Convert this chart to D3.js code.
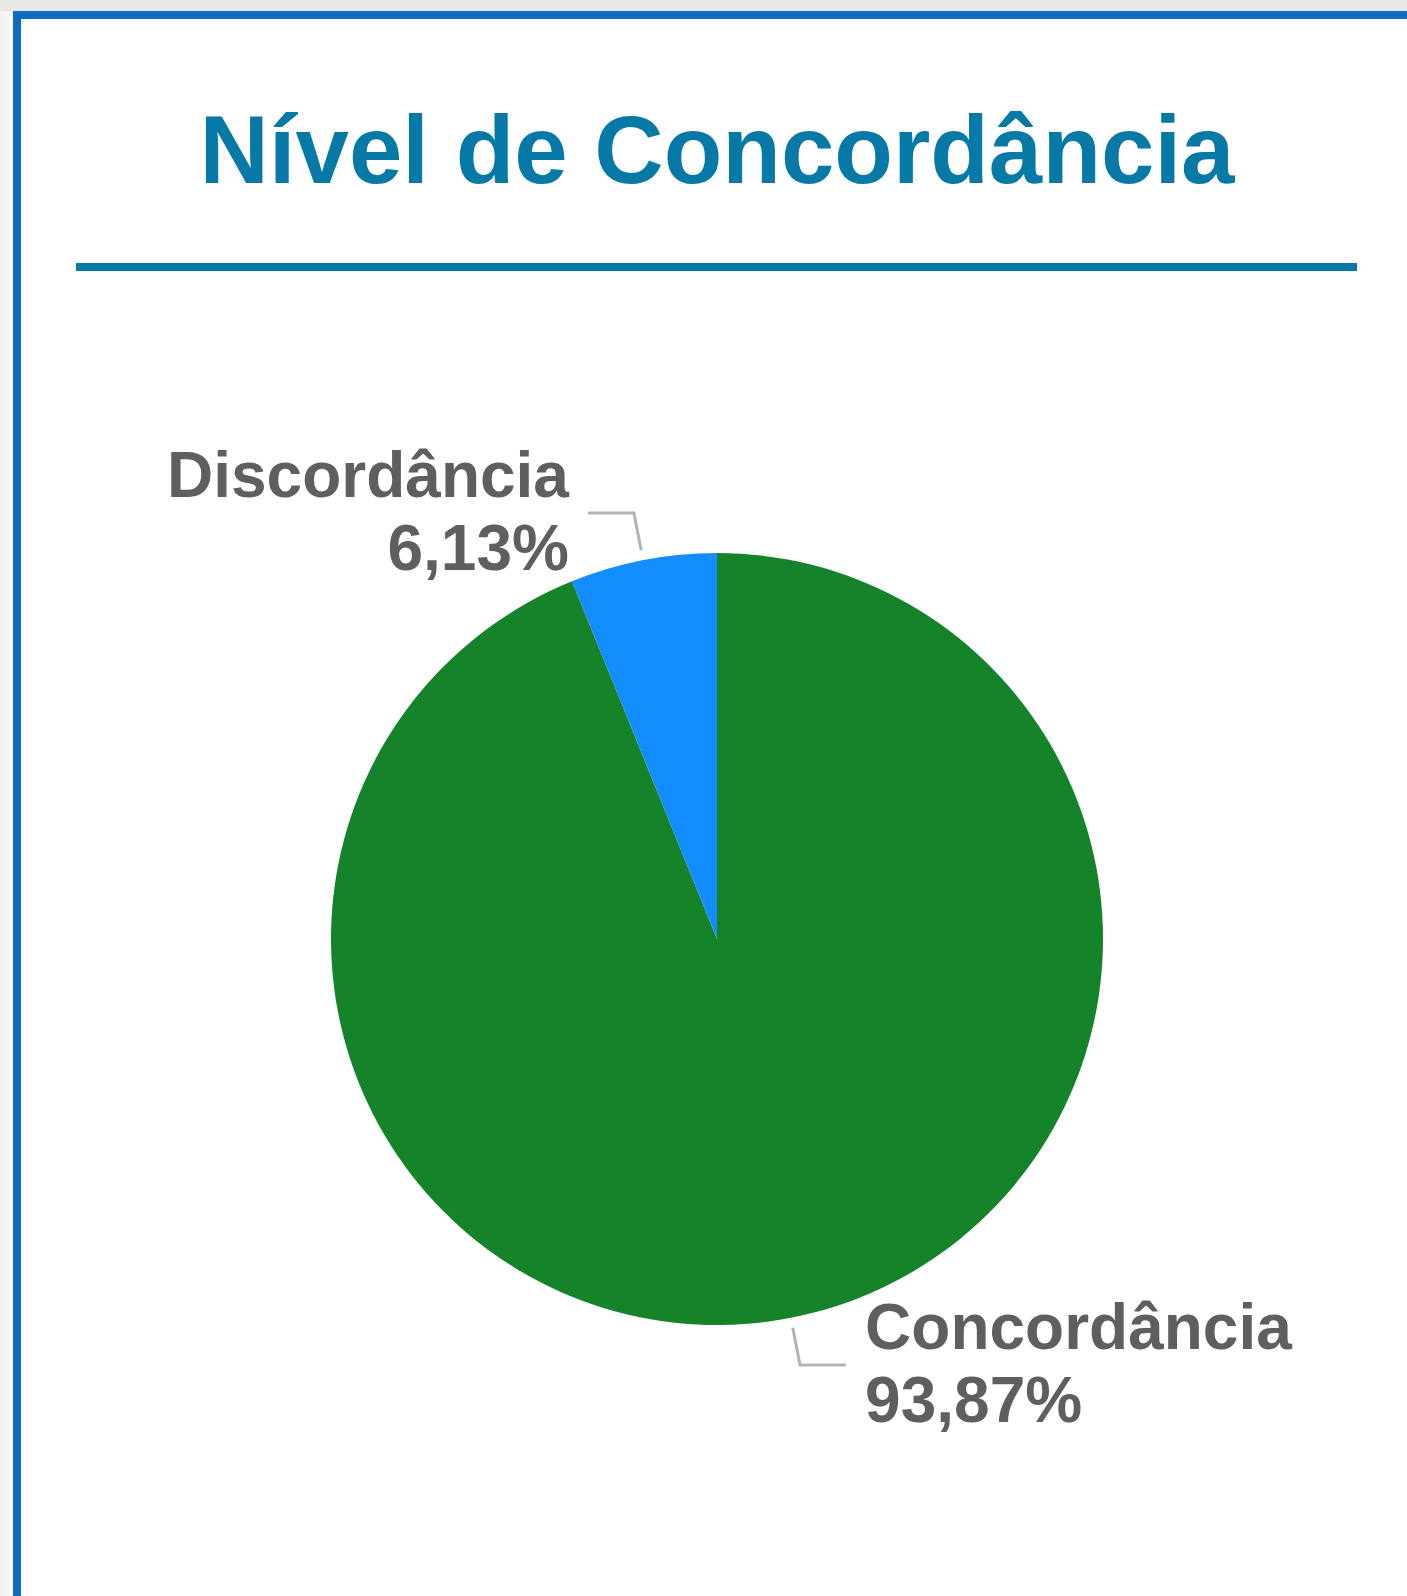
<!DOCTYPE html>
<html>
<head>
<meta charset="utf-8">
<script src="https://cdn.jsdelivr.net/npm/d3@7"></script>
<style>
  html, body { margin: 0; padding: 0; }
  body {
    width: 1407px; height: 1596px; overflow: hidden;
    background: linear-gradient(to right, #f0f0f0, #fafafa 13px);
    font-family: "Liberation Sans", Arial, sans-serif;
  }
  .top-strip { position: absolute; left: 0; top: 0; width: 1407px; height: 11px; background: #e8e8e8; }
  svg { position: absolute; left: 0; top: 0; }
</style>
</head>
<body>
<div class="top-strip"></div>
<svg width="1407" height="1596"></svg>
<script>
const title = "Nível de Concordância";
const categories = ["Concordância", "Discordância"];
const values = [93.87, 6.13];
const colors = ["#14832a", "#138dff"];

const svg = d3.select("svg"),
  width = +svg.attr("width"),
  height = +svg.attr("height");

// card with blue border on top and left
svg.append("rect")
  .attr("x", 13).attr("y", 11)
  .attr("width", width).attr("height", height)
  .attr("fill", "#fff");
svg.append("rect")
  .attr("x", 13).attr("y", 11)
  .attr("width", width).attr("height", 8)
  .attr("fill", "#0f6bc1");
svg.append("rect")
  .attr("x", 13).attr("y", 11)
  .attr("width", 8).attr("height", height)
  .attr("fill", "#0f6bc1");

// title + rule
svg.append("text")
  .attr("x", 717).attr("y", 183)
  .attr("text-anchor", "middle")
  .attr("font-size", 96)
  .attr("font-weight", "bold")
  .attr("fill", "#0779a7")
  .text(title);

svg.append("line")
  .attr("x1", 76).attr("x2", 1357)
  .attr("y1", 267).attr("y2", 267)
  .attr("stroke", "#0779a7")
  .attr("stroke-width", 8);

// pie
const cx = 717, cy = 939, r = 386;
const g = svg.append("g").attr("transform", `translate(${cx},${cy})`);

const pie = d3.pie().sort(null).value((d) => d.value);
const data = pie(categories.map((c, i) => ({ name: c, value: values[i], color: colors[i] })));
const arc = d3.arc().innerRadius(0).outerRadius(r);

g.selectAll("path")
  .data(data)
  .enter()
  .append("path")
  .attr("d", arc)
  .attr("fill", (d) => d.data.color);

// labels with leader lines
const fmt = (v) => v.toFixed(2).replace(".", ",") + "%";
const inner = d3.arc().innerRadius(r + 10).outerRadius(r + 10);
const outer = d3.arc().innerRadius(r + 48).outerRadius(r + 48);

data.forEach((d) => {
  const p1 = inner.centroid(d);
  const p2 = outer.centroid(d);
  const mid = (d.startAngle + d.endAngle) / 2;
  const right = mid < Math.PI;
  const p3 = [p2[0] + (right ? 46 : -46), p2[1]];

  g.append("polyline")
    .attr("points", [p1, p2, p3].map((p) => p.join(",")).join(" "))
    .attr("fill", "none")
    .attr("stroke", "#b3b3b3")
    .attr("stroke-width", 3);

  const t = g.append("text")
    .attr("text-anchor", right ? "start" : "end")
    .attr("font-size", 64)
    .attr("font-weight", "bold")
    .attr("fill", "#5f5f5f");
  const tx = p3[0] + (right ? 19 : -19);
  t.append("tspan").attr("x", tx).attr("y", p3[1] - 16).text(d.data.name);
  t.append("tspan").attr("x", tx).attr("y", p3[1] + 57).text(fmt(d.data.value));
});
</script>
</body>
</html>
